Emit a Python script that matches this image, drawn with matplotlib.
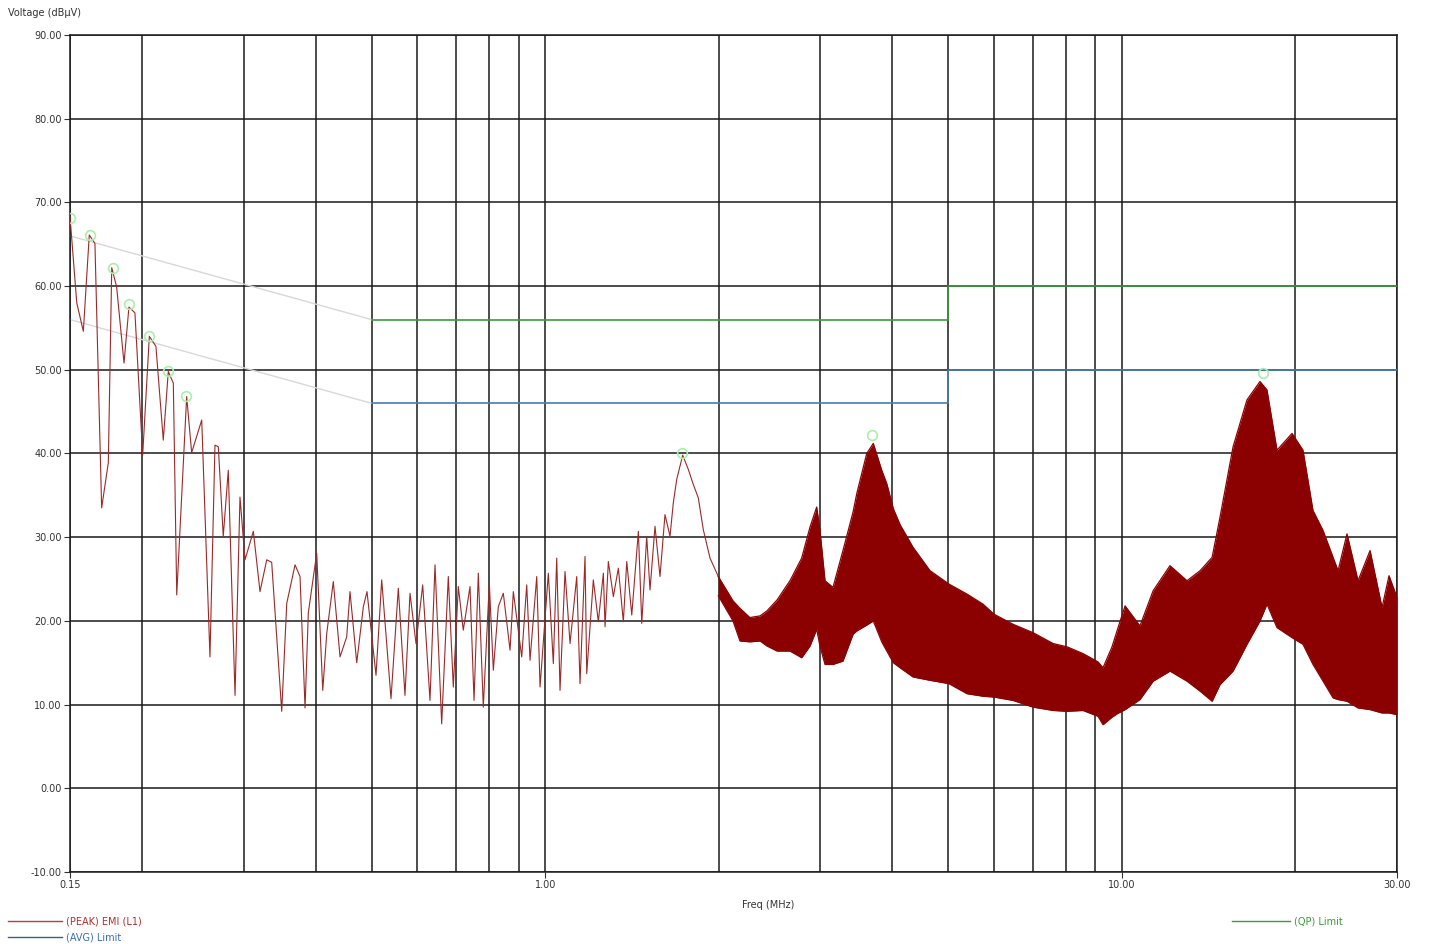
import numpy as np
import matplotlib
matplotlib.use("Agg")
import matplotlib.pyplot as plt
from matplotlib.lines import Line2D

# peak trace, low band (MHz, dBuV)
peak_freq = [
    0.150, 0.1541, 0.1582, 0.1620, 0.1657, 0.1702, 0.1748, 0.1772, 0.1807, 0.1861,
    0.1898, 0.1944, 0.2005, 0.2059, 0.2114, 0.2177, 0.2221, 0.2266, 0.2297, 0.2390,
    0.2438, 0.2538, 0.2623, 0.2676, 0.2712, 0.2766, 0.2822, 0.2899, 0.2957, 0.3017,
    0.3119, 0.3203, 0.3290, 0.3356, 0.3493, 0.3564, 0.3684, 0.3758, 0.3834, 0.3885,
    0.4017, 0.4115, 0.4181, 0.4292, 0.4409, 0.4528, 0.4588, 0.4713, 0.4839, 0.4910,
    0.5090, 0.5207, 0.5404, 0.5564, 0.5714, 0.5830, 0.5971, 0.6133, 0.6314, 0.6442,
    0.6616, 0.6793, 0.6930, 0.7070, 0.7212, 0.7408, 0.7528, 0.7658, 0.7812, 0.8002,
    0.8131, 0.8295, 0.8462, 0.8692, 0.8807, 0.9107, 0.9291, 0.9414, 0.9670, 0.9798,
    1.0128, 1.0332, 1.0473, 1.0612, 1.0826, 1.1045, 1.1344, 1.1494, 1.1726, 1.1806,
    1.2122, 1.2366, 1.2616, 1.2702, 1.2870, 1.3130, 1.3395, 1.3665, 1.3852, 1.4132,
    1.4509, 1.4707, 1.5000, 1.5199, 1.5506, 1.5818, 1.6137, 1.6463, 1.6681, 1.6910,
    1.7319, 1.7711, 1.8068, 1.8432, 1.8804, 1.9314, 1.9965,
]
peak_level = [
    68.3, 58.0, 54.6, 66.1, 65.1, 33.5, 38.9, 62.2, 59.9, 50.8,
    57.5, 56.8, 39.8, 54.0, 52.8, 41.6, 49.8, 48.4, 23.1, 46.8,
    40.1, 44.0, 15.7, 41.0, 40.8, 30.1, 38.0, 11.1, 34.8, 27.3,
    30.7, 23.5, 27.3, 27.0, 9.2, 22.1, 26.7, 25.3, 9.6, 21.0,
    28.1, 11.7, 18.5, 24.7, 15.7, 18.1, 23.5, 15.0, 21.7, 23.5,
    13.5, 24.9, 10.7, 23.9, 11.1, 23.3, 17.3, 24.3, 10.5, 26.7,
    7.7, 25.3, 12.1, 24.1, 18.9, 24.1, 10.5, 25.7, 9.7, 24.5,
    14.1, 21.7, 23.3, 16.5, 23.5, 15.7, 24.3, 15.3, 25.3, 12.1,
    25.7, 14.9, 27.5, 11.7, 25.9, 17.3, 25.3, 12.5, 27.7, 13.7,
    24.9, 19.9, 25.7, 19.3, 27.1, 22.9, 26.3, 19.9, 27.1, 20.7,
    30.7, 19.7, 30.1, 23.7, 31.3, 25.3, 32.7, 30.1, 34.1, 36.9,
    39.8, 38.1, 36.3, 34.7, 30.9, 27.5, 25.3,
]

# dense part of the sweep (2-30 MHz): upper / lower envelope of the trace
band_freq = [
    1.9965, 2.117, 2.177, 2.265, 2.359, 2.425, 2.524, 2.658, 2.785, 2.879,
    2.957, 2.996, 3.057, 3.156, 3.284, 3.419, 3.470, 3.611, 3.707, 3.834,
    3.912, 4.016, 4.125, 4.344, 4.649, 5.015, 5.390, 5.745, 6.003, 6.475,
    7.013, 7.598, 8.035, 8.562, 9.093, 9.276, 9.615, 9.809, 10.13, 10.75,
    11.33, 12.12, 12.97, 13.67, 14.34, 14.80, 15.59, 16.48, 17.36, 17.85,
    18.58, 19.73, 20.61, 21.45, 22.33, 23.24, 23.71, 24.57, 25.68, 26.94,
    28.26, 29.06, 30.0,
]
band_upper = [
    25.3, 22.4, 21.5, 20.4, 20.6, 21.2, 22.5, 24.8, 27.5, 31.2,
    33.6, 30.8, 24.8, 24.0, 28.4, 33.0, 35.2, 40.0, 41.2, 38.0,
    36.4, 33.4, 31.5, 28.8, 26.0, 24.4, 23.2, 22.0, 20.8, 19.6,
    18.6, 17.3, 16.9, 16.1, 15.1, 14.4, 16.9, 18.8, 21.8, 19.4,
    23.6, 26.6, 24.8, 26.0, 27.6, 32.4, 40.8, 46.4, 48.6, 47.6,
    40.4, 42.4, 40.4, 33.2, 30.8, 27.6, 26.0, 30.4, 24.8, 28.4,
    21.6, 25.4, 22.8,
]
band_lower = [
    23.0, 20.0, 17.6, 17.5, 17.6, 17.0, 16.4, 16.4, 15.6, 17.0,
    19.0, 17.0, 14.8, 14.8, 15.2, 18.4, 18.8, 19.5, 20.0, 17.5,
    16.4, 15.0, 14.4, 13.3, 12.9, 12.5, 11.3, 11.0, 10.9, 10.5,
    9.7, 9.3, 9.2, 9.3, 8.6, 7.6, 8.5, 8.9, 9.4, 10.6,
    12.8, 14.0, 12.8, 11.6, 10.4, 12.4, 14.0, 17.2, 20.0, 22.0,
    19.2, 18.0, 17.2, 14.8, 12.8, 10.8, 10.6, 10.4, 9.6, 9.4,
    9.0, 9.0, 8.8,
]

# marked peaks
mark_freq = [0.150, 0.1625, 0.178, 0.190, 0.206, 0.222, 0.238, 1.73, 3.69, 17.55]
mark_level = [68.1, 66.1, 62.2, 57.9, 54.0, 49.9, 46.9, 40.1, 42.2, 49.6]

# CISPR limits
slope_freq = [0.15, 0.5]
qp_slope = [66, 56]
avg_slope = [56, 46]
limit_freq = [0.5, 5, 5, 30]
qp_limit = [56, 56, 60, 60]
avg_limit = [46, 46, 50, 50]

x_major = [0.15, 1, 10, 30]
x_major_labels = ["0.15", "1.00", "10.00", "30.00"]
x_minor = [0.2, 0.3, 0.4, 0.5, 0.6, 0.7, 0.8, 0.9, 2, 3, 4, 5, 6, 7, 8, 9, 20]
y_ticks = list(range(-10, 91, 10))

trace_col = "#8b0000"
qp_col = "#3c9a3c"
avg_col = "#4a7db0"

fig = plt.figure(figsize=(14.32, 9.44), dpi=100)
ax = fig.add_axes([70 / 1432, 1 - 872 / 944, 1327 / 1432, 837 / 944])
ax.set_xscale("log")
ax.set_xlim(0.15, 30)
ax.set_ylim(-10, 90)

ax.set_xticks(x_major)
ax.set_xticklabels(x_major_labels)
ax.set_xticks(x_minor, minor=True)
ax.set_xticklabels([], minor=True)
ax.set_yticks(y_ticks)
ax.set_yticklabels([f"{v:.2f}" for v in y_ticks])
ax.tick_params(which="major", length=4, width=0.8, color="#333333",
               labelsize=7, labelcolor="#333333", pad=2)
ax.tick_params(which="minor", length=0)
ax.grid(which="both", color="#1a1a1a", linewidth=1.1)
ax.set_axisbelow(True)
for sp in ax.spines.values():
    sp.set_color("#1a1a1a")
    sp.set_linewidth(1.1)

# limits
ax.plot(slope_freq, qp_slope, color="#d8d8d8", lw=1.0, zorder=2)
ax.plot(slope_freq, avg_slope, color="#d8d8d8", lw=1.0, zorder=2)
ax.plot(limit_freq, qp_limit, color=qp_col, lw=1.2, zorder=3)
ax.plot(limit_freq, avg_limit, color=avg_col, lw=1.2, zorder=3)

# trace
ax.plot(peak_freq, peak_level, color="#9a2a2a", lw=0.8, zorder=4)
ax.fill_between(band_freq, band_lower, band_upper, color=trace_col, lw=0, zorder=4)
ax.plot(band_freq, band_upper, color=trace_col, lw=0.9, zorder=4)
ax.plot(band_freq, band_lower, color=trace_col, lw=0.9, zorder=4)

ax.plot(mark_freq, mark_level, ls="none", marker="o", ms=7, mfc="none",
        mec="#a8f0a8", mew=1.2, zorder=5)

fig.text(8 / 1432, 1 - 13 / 944, "Voltage (dBµV)", fontsize=7, color="#333333",
         va="center", ha="left")
fig.text(768 / 1432, 1 - 905 / 944, "Freq (MHz)", fontsize=7, color="#333333",
         va="center", ha="center")

# legend entries
def legend_entry(x0, x1, y, col, label, tcol):
    yf = 1 - y / 944
    fig.add_artist(Line2D([x0 / 1432, x1 / 1432], [yf, yf], color=col, lw=1.0,
                          transform=fig.transFigure))
    fig.text((x1 + 4) / 1432, yf, label, fontsize=7, color=tcol, va="center", ha="left")

legend_entry(8, 62, 921, "#b04040", "(PEAK) EMI (L1)", "#b03030")
legend_entry(8, 62, 937, "#3a5f8a", "(AVG) Limit", "#3a6fb0")
legend_entry(1232, 1290, 921, qp_col, "(QP) Limit", qp_col)

fig.savefig("out.png", dpi=100)
